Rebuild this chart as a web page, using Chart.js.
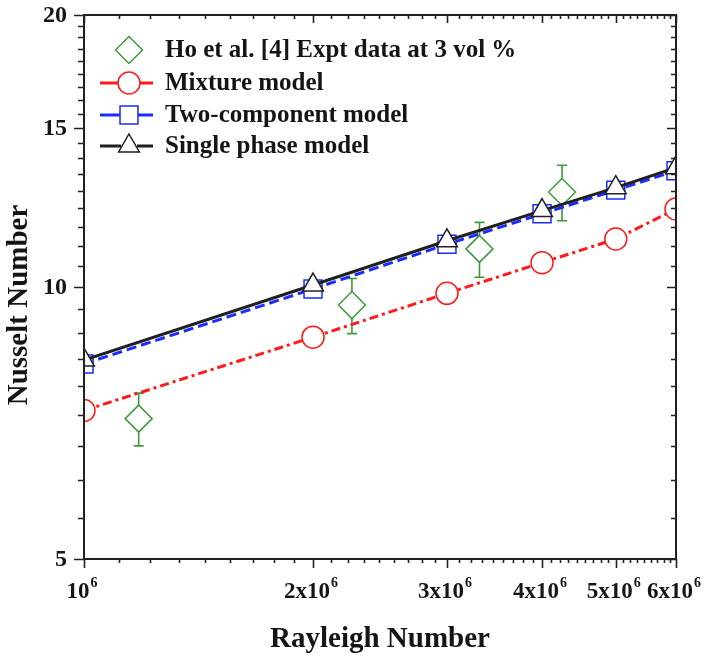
<!DOCTYPE html>
<html>
<head>
<meta charset="utf-8">
<script src="https://cdn.jsdelivr.net/npm/chart.js@4.4.1/dist/chart.umd.min.js"></script>
<style>
  html, body { margin: 0; padding: 0; background: #fff; }
  #wrap { width: 708px; height: 656px; }
</style>
</head>
<body>
<div id="wrap"><canvas id="chart" width="708" height="656"></canvas></div>
<script>
// values
const rayleigh = [1e6, 2e6, 3e6, 4e6, 5e6, 6e6]
const mixtureNu = [7.3, 8.8, 9.84, 10.64, 11.3, 12.2]
const twoComponentNu = [8.22, 9.95, 11.15, 12.05, 12.8, 13.45]
const singlePhaseNu = [8.3, 10.05, 11.25, 12.15, 12.88, 13.55]

const exptRayleigh = [1.18e6, 2.25e6, 3.31e6, 4.25e6]
const exptNu = [7.15, 9.55, 11.02, 12.74]
const exptErr = [0.48, 0.67, 0.77, 0.9]

const xTickValues = [1e6, 2e6, 3e6, 4e6, 5e6, 6e6]
const xTickLabels = [["10", "6"], ["2x10", "6"], ["3x10", "6"], ["4x10", "6"], ["5x10", "6"], ["6x10", "6"]]
const yTickValues = [5, 10, 15, 20]
const yTickLabels = ["5", "10", "15", "20"]

const seriesNames = [
  "Ho et al. [4] Expt data at 3 vol %",
  "Mixture model",
  "Two-component model",
  "Single phase model",
]

const SERIF = "'Liberation Serif', 'Times New Roman', serif"
const INK = "#151515"
const GREEN = "#3c9a3c"
const RED = "#ff1a1a"
const BLUE = "#1a2cff"
const BLACK = "#202020"

const toPoints = (xs, ys) => xs.map((x, i) => ({ x: x, y: ys[i] }))

// 8 minor ticks between neighbouring majors, evenly spaced in value
const minorTicks = (majors) => {
  const out = []
  for (let i = 0; i < majors.length - 1; i++) {
    const a = majors[i], b = majors[i + 1]
    for (let k = 1; k < 9; k++) out.push(a + (b - a) * k / 9)
  }
  return out
}

const drawMarker = (ctx, style, x, y, r) => {
  ctx.beginPath()
  if (style === "circle") {
    ctx.arc(x, y, r, 0, Math.PI * 2)
  } else if (style === "rect") {
    const s = r * Math.SQRT1_2
    ctx.rect(x - s, y - s, 2 * s, 2 * s)
  } else if (style === "rectRot") {
    ctx.moveTo(x - r, y)
    ctx.lineTo(x, y - r)
    ctx.lineTo(x + r, y)
    ctx.lineTo(x, y + r)
    ctx.closePath()
  } else if (style === "triangle") {
    ctx.moveTo(x, y - r)
    ctx.lineTo(x + r * 0.866, y + r / 2)
    ctx.lineTo(x - r * 0.866, y + r / 2)
    ctx.closePath()
  }
  ctx.fill()
  ctx.stroke()
}

const errorBarPlugin = {
  id: "errorBars",
  beforeDatasetsDraw(chart) {
    const { ctx, scales: { x, y }, chartArea } = chart
    ctx.save()
    ctx.beginPath()
    ctx.rect(chartArea.left, chartArea.top, chartArea.right - chartArea.left, chartArea.bottom - chartArea.top)
    ctx.clip()
    ctx.strokeStyle = GREEN
    ctx.lineWidth = 1.6
    exptRayleigh.forEach((ra, i) => {
      const px = x.getPixelForValue(ra)
      const top = y.getPixelForValue(exptNu[i] + exptErr[i])
      const bot = y.getPixelForValue(exptNu[i] - exptErr[i])
      ctx.beginPath()
      ctx.moveTo(px, top)
      ctx.lineTo(px, bot)
      ctx.moveTo(px - 5, top)
      ctx.lineTo(px + 5, top)
      ctx.moveTo(px - 5, bot)
      ctx.lineTo(px + 5, bot)
      ctx.stroke()
    })
    ctx.restore()
  },
}

const framePlugin = {
  id: "frame",
  afterDraw(chart) {
    const { ctx, scales: { x, y }, chartArea: a } = chart
    ctx.save()

    // frame
    ctx.strokeStyle = "#222"
    ctx.lineWidth = 2
    ctx.strokeRect(a.left, a.top, a.right - a.left, a.bottom - a.top)

    // ticks: outward on left/bottom, inward on top/right
    ctx.lineWidth = 1.6
    ctx.beginPath()
    const xt = (v, major) => {
      const px = Math.round(x.getPixelForValue(v)) + 0.5
      ctx.moveTo(px, a.bottom)
      ctx.lineTo(px, a.bottom + (major ? 9 : 4))
      ctx.moveTo(px, a.top)
      ctx.lineTo(px, a.top + (major ? 8 : 4))
    }
    const yt = (v, major) => {
      const py = Math.round(y.getPixelForValue(v)) + 0.5
      ctx.moveTo(a.left, py)
      ctx.lineTo(a.left - (major ? 10 : 6), py)
      ctx.moveTo(a.right, py)
      ctx.lineTo(a.right - (major ? 9 : 5), py)
    }
    xTickValues.forEach(v => xt(v, true))
    minorTicks(xTickValues).forEach(v => xt(v, false))
    yTickValues.forEach(v => yt(v, true))
    minorTicks(yTickValues).forEach(v => yt(v, false))
    ctx.stroke()

    // y tick labels
    ctx.fillStyle = INK
    ctx.font = "bold 24px " + SERIF
    ctx.textAlign = "right"
    ctx.textBaseline = "middle"
    yTickValues.forEach((v, i) => {
      ctx.fillText(yTickLabels[i], a.left - 17, y.getPixelForValue(v) + 1)
    })

    // x tick labels with superscript exponent
    ctx.textAlign = "left"
    ctx.textBaseline = "alphabetic"
    xTickValues.forEach((v, i) => {
      const [base, sup] = xTickLabels[i]
      ctx.font = "bold 23px " + SERIF
      const bw = ctx.measureText(base).width
      ctx.font = "bold 14px " + SERIF
      const sw = ctx.measureText(sup).width
      const x0 = x.getPixelForValue(v) - (bw + sw + 1) / 2 - 2
      ctx.font = "bold 23px " + SERIF
      ctx.fillText(base, x0, a.bottom + 39)
      ctx.font = "bold 14px " + SERIF
      ctx.fillText(sup, x0 + bw + 1, a.bottom + 28)
    })

    // axis titles
    ctx.font = "bold 29px " + SERIF
    ctx.textAlign = "center"
    ctx.fillText("Rayleigh Number", (a.left + a.right) / 2, a.bottom + 88)
    ctx.save()
    ctx.translate(27, 305)
    ctx.rotate(-Math.PI / 2)
    ctx.fillText("Nusselt Number", 0, 0)
    ctx.restore()

    // legend
    const rows = [35, 68, 100, 131]
    const symX = a.left + 45
    const legendItems = chart.data.datasets
    ctx.font = "bold 25px " + SERIF
    ctx.textAlign = "left"
    ctx.textBaseline = "middle"
    legendItems.forEach((ds, i) => {
      const cy = a.top + rows[i]
      if (ds.showLine !== false) {
        ctx.strokeStyle = ds.borderColor
        ctx.lineWidth = 3
        ctx.setLineDash([])
        ctx.beginPath()
        ctx.moveTo(a.left + 16, cy)
        ctx.lineTo(symX - 8, cy)
        ctx.moveTo(symX + 8, cy)
        ctx.lineTo(a.left + 69, cy)
        ctx.stroke()
      }
      ctx.fillStyle = "#fff"
      ctx.strokeStyle = ds.pointBorderColor
      ctx.lineWidth = 1.5
      drawMarker(ctx, ds.pointStyle, symX, cy, ds.pointRadius)
      ctx.fillStyle = INK
      ctx.fillText(seriesNames[i], a.left + 81, cy + 1)
    })

    ctx.restore()
  },
}

const canvas = document.getElementById("chart")

new Chart(canvas, {
  type: "line",
  data: {
    datasets: [
      {
        label: seriesNames[0],
        data: toPoints(exptRayleigh, exptNu),
        showLine: false,
        pointStyle: "rectRot",
        pointRadius: 13.5,
        pointBorderWidth: 1.5,
        pointBorderColor: GREEN,
        pointBackgroundColor: "#fff",
        borderColor: GREEN,
        order: 3,
        clip: 0,
      },
      {
        label: seriesNames[1],
        data: toPoints(rayleigh, mixtureNu),
        borderColor: RED,
        borderWidth: 3,
        borderDash: [9, 4, 3, 4],
        pointStyle: "circle",
        pointRadius: 11,
        pointBorderWidth: 1.5,
        pointBorderColor: RED,
        pointBackgroundColor: "#fff",
        order: 2,
        clip: 0,
      },
      {
        label: seriesNames[2],
        data: toPoints(rayleigh, twoComponentNu),
        borderColor: BLUE,
        borderWidth: 3,
        borderDash: [10, 5],
        pointStyle: "rect",
        pointRadius: 12.7,
        pointBorderWidth: 1.5,
        pointBorderColor: BLUE,
        pointBackgroundColor: "#fff",
        order: 1,
        clip: 0,
      },
      {
        label: seriesNames[3],
        data: toPoints(rayleigh, singlePhaseNu),
        borderColor: BLACK,
        borderWidth: 3,
        pointStyle: "triangle",
        pointRadius: 12,
        pointBorderWidth: 1.5,
        pointBorderColor: BLACK,
        pointBackgroundColor: "#fff",
        order: 0,
        clip: 0,
      },
    ],
  },
  options: {
    responsive: false,
    animation: false,
    events: [],
    layout: { padding: { top: 12, right: 32, left: 0, bottom: 0 } },
    elements: { line: { tension: 0 } },
    scales: {
      x: {
        type: "logarithmic",
        min: 1e6,
        max: 6e6,
        bounds: "data",
        border: { display: false },
        grid: { display: false },
        ticks: { display: false },
        afterFit: (scale) => { scale.height = 97 },
      },
      y: {
        type: "logarithmic",
        min: 5,
        max: 20,
        bounds: "data",
        border: { display: false },
        grid: { display: false },
        ticks: { display: false },
        afterFit: (scale) => { scale.width = 84 },
      },
    },
    plugins: {
      legend: { display: false },
      tooltip: { enabled: false },
    },
  },
  plugins: [errorBarPlugin, framePlugin],
})
</script>
</body>
</html>
